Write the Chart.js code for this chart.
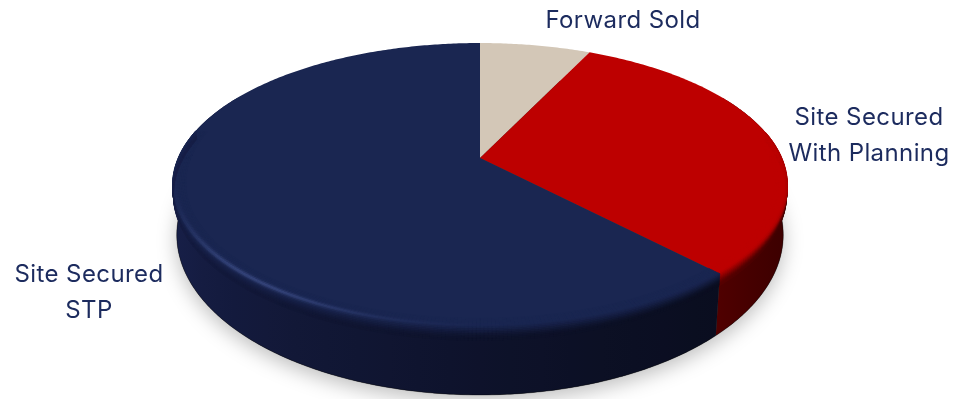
<!DOCTYPE html>
<html>
<head>
<meta charset="utf-8">
<script src="https://cdn.jsdelivr.net/npm/chart.js@4/dist/chart.umd.js"></script>
<style>
  html, body { margin: 0; padding: 0; background: #fff; overflow: hidden; }
  canvas { display: block; }
</style>
</head>
<body>
<canvas id="pie" width="953" height="399"></canvas>
<script>
/* Tilted pipeline pie with a bevelled rim and a soft ground shadow */

const categories = ['Forward Sold', 'Site Secured With Planning', 'Site Secured STP'];
const shares     = [7, 31, 62];

const labelLines = [['Forward Sold'], ['Site Secured', 'With Planning'], ['Site Secured', 'STP']];
const labelSpots = [[623, 21], [869, 118], [89, 275]];

const faceColors = [[211, 199, 183], [189, 0, 0], [26, 38, 81]];
const wallLeft   = [[120, 110, 100], [340, 0, 0], [23, 31, 72]];
const wallRight  = [[90, 80, 70], [60, 0, 0], [9, 12, 28]];
const RIM_LIGHT  = [62, 78, 135];
const TEXT_COLOR = '#1c2b5e';

// ── Projection of the disc ────────────────────────────────────────────────
// x and y are unit-disc coordinates, y grows towards the viewer

const CX = 480;
const HALF_WIDTH = 307;
const topPlane = { sx: 301.8, a: 106.8, b: 158, c: -0.19 };
const basePlane = { sx: 298, a: 116.5, b: 205.4, c: -0.185 };

function project(plane, x, y) {
  const w = 1 + plane.c * y;
  return [CX + plane.sx * x / w, (plane.a * y + plane.b) / w];
}

function rimPoint(angle, radius, drop) {
  const x = Math.cos(angle), y = Math.sin(angle);
  const p = project(topPlane, radius * x, radius * y);
  if (!drop) return p;
  const q = project(basePlane, x, y);
  return [p[0] + (q[0] - p[0]) * drop, p[1] + (q[1] - p[1]) * drop];
}

const mix = (a, b, k) => a.map((v, i) => v + (b[i] - v) * k);
const css = c => `rgb(${c.map(Math.round).join(',')})`;
const clamp = k => Math.max(0, Math.min(1, k));
const smooth = (e0, e1, k) => { const t = clamp((k - e0) / (e1 - e0)); return t * t * (3 - 2 * t); };

// u runs from -1 on the left of the wall to 1 on the right
function wallColor(i, u) {
  return mix(wallLeft[i], wallRight[i], Math.pow(clamp((u + 1) / 2), 0.6));
}

function fillQuad(ctx, a, b, c, d, color) {
  ctx.beginPath();
  ctx.moveTo(a[0], a[1]);
  ctx.lineTo(b[0], b[1]);
  ctx.lineTo(c[0], c[1]);
  ctx.lineTo(d[0], d[1]);
  ctx.closePath();
  ctx.fillStyle = color;
  ctx.strokeStyle = color;
  ctx.lineWidth = 0.6;
  ctx.fill();
  ctx.stroke();
}

function angleSteps(start, end) {
  const n = Math.max(2, Math.ceil((end - start) / (Math.PI / 300)));
  return Array.from({ length: n + 1 }, (_, k) => start + (end - start) * k / n);
}

function traceRim(ctx, angles, drop, first) {
  angles.forEach((a, k) => {
    const p = rimPoint(a, 1, drop);
    if (first && k === 0) ctx.moveTo(p[0], p[1]); else ctx.lineTo(p[0], p[1]);
  });
}

// ── Drawing stages ────────────────────────────────────────────────────────

function drawShadow(ctx) {
  ctx.save();
  ctx.beginPath();
  traceRim(ctx, angleSteps(0, Math.PI * 2), 1, true);
  ctx.closePath();
  ctx.shadowColor = 'rgba(0,0,0,0.26)';
  ctx.shadowBlur = 20;
  ctx.shadowOffsetY = 6;
  ctx.fillStyle = '#444';
  ctx.fill();
  ctx.restore();
}

// Only the near side of the wall shows, the far side sits behind the face.
// All the quads go in one path so the outline is their union and no seams appear.
function drawWall(ctx, i, start, end) {
  const from = Math.max(start, -0.5), to = Math.min(end, Math.PI + 0.5);
  if (to <= from) return;
  const angles = angleSteps(from, to);
  const grad = ctx.createLinearGradient(CX - HALF_WIDTH, 0, CX + HALF_WIDTH, 0);
  for (let s = 0; s <= 20; s++) grad.addColorStop(s / 20, css(wallColor(i, s / 10 - 1)));

  ctx.beginPath();
  for (let k = 0; k < angles.length - 1; k++) {
    const quad = [
      rimPoint(angles[k], 1, 0), rimPoint(angles[k + 1], 1, 0),
      rimPoint(angles[k + 1], 1, 1), rimPoint(angles[k], 1, 1),
    ];
    ctx.moveTo(quad[0][0], quad[0][1]);
    quad.slice(1).forEach(p => ctx.lineTo(p[0], p[1]));
    ctx.closePath();
  }
  ctx.fillStyle = grad;
  ctx.fill();
}

function drawBaseEdge(ctx, start, end) {
  const from = Math.max(start, 0.05), to = Math.min(end, Math.PI - 0.05);
  if (to <= from) return;
  ctx.save();
  ctx.beginPath();
  traceRim(ctx, angleSteps(from, to), 1, true);
  ctx.strokeStyle = 'rgba(0,0,0,0.35)';
  ctx.lineWidth = 1;
  ctx.stroke();
  ctx.restore();
}

function drawFace(ctx, i, start, end) {
  const apex = project(topPlane, 0, 0);
  ctx.beginPath();
  ctx.moveTo(apex[0], apex[1]);
  traceRim(ctx, angleSteps(start, end), 0, false);
  ctx.closePath();
  ctx.fillStyle = css(faceColors[i]);
  ctx.fill();
}

// Rounded edge: the face shades into the wall, with a light streak on the front left
function bevelPoint(angle, p) {
  return p < 0.5 ? rimPoint(angle, 0.958 + 0.042 * (p / 0.5), 0) : rimPoint(angle, 1, 0.2 * (p - 0.5) / 0.5);
}

function drawBevel(ctx, i, start, end) {
  const BANDS = 16;
  const steps = angleSteps(start, end);
  for (let k = 0; k < steps.length - 1; k++) {
    const a0 = steps[k], a1 = steps[k + 1];
    const front = clamp((Math.sin(a0) + 0.2) / 0.4);
    if (front === 0) continue;
    const deg = a0 * 180 / Math.PI;
    const streak = i === 2 ? Math.exp(-Math.pow((deg - 130) / 22, 2)) : 0;
    const wall = wallColor(i, Math.cos(a0));
    for (let b = 0; b < BANDS; b++) {
      const p0 = b / BANDS, p1 = (b + 1) / BANDS, pm = (p0 + p1) / 2;
      let c = mix(faceColors[i], wall, smooth(0.38, 0.95, pm));
      c = mix(c, RIM_LIGHT, streak * 0.8 * Math.exp(-Math.pow((pm - 0.42) / 0.1, 2)));
      if (pm < 0.5) c = mix(faceColors[i], c, front);
      fillQuad(ctx, bevelPoint(a0, p0), bevelPoint(a1, p0), bevelPoint(a1, p1), bevelPoint(a0, p1), css(c));
    }
  }
}

// The arcs come from Chart.js; they are redrawn here through the tilted projection
const tiltedPie = {
  id: 'tiltedPie',
  beforeDatasetDraw(chart, args) {
    const ctx = chart.ctx;
    const arcs = chart.getDatasetMeta(args.index).data;
    drawShadow(ctx);
    arcs.forEach((arc, i) => drawWall(ctx, i, arc.startAngle, arc.endAngle));
    arcs.forEach(arc => drawBaseEdge(ctx, arc.startAngle, arc.endAngle));
    arcs.forEach((arc, i) => drawFace(ctx, i, arc.startAngle, arc.endAngle));
    arcs.forEach((arc, i) => drawBevel(ctx, i, arc.startAngle, arc.endAngle));
    return false;
  },
  afterDraw(chart) {
    const ctx = chart.ctx;
    ctx.save();
    ctx.font = '400 24px Inter';
    ctx.letterSpacing = '0.4px';
    ctx.fillStyle = TEXT_COLOR;
    ctx.textAlign = 'center';
    ctx.textBaseline = 'middle';
    labelLines.forEach((lines, i) => {
      lines.forEach((line, k) => ctx.fillText(line, labelSpots[i][0], labelSpots[i][1] + k * 36));
    });
    ctx.restore();
  },
};

new Chart(document.getElementById('pie'), {
  type: 'pie',
  data: {
    labels: categories,
    datasets: [{ data: shares, backgroundColor: faceColors.map(css), borderWidth: 0 }],
  },
  options: {
    responsive: false,
    animation: false,
    events: [],
    plugins: { legend: { display: false }, tooltip: { enabled: false } },
  },
  plugins: [tiltedPie],
});
</script>
</body>
</html>
